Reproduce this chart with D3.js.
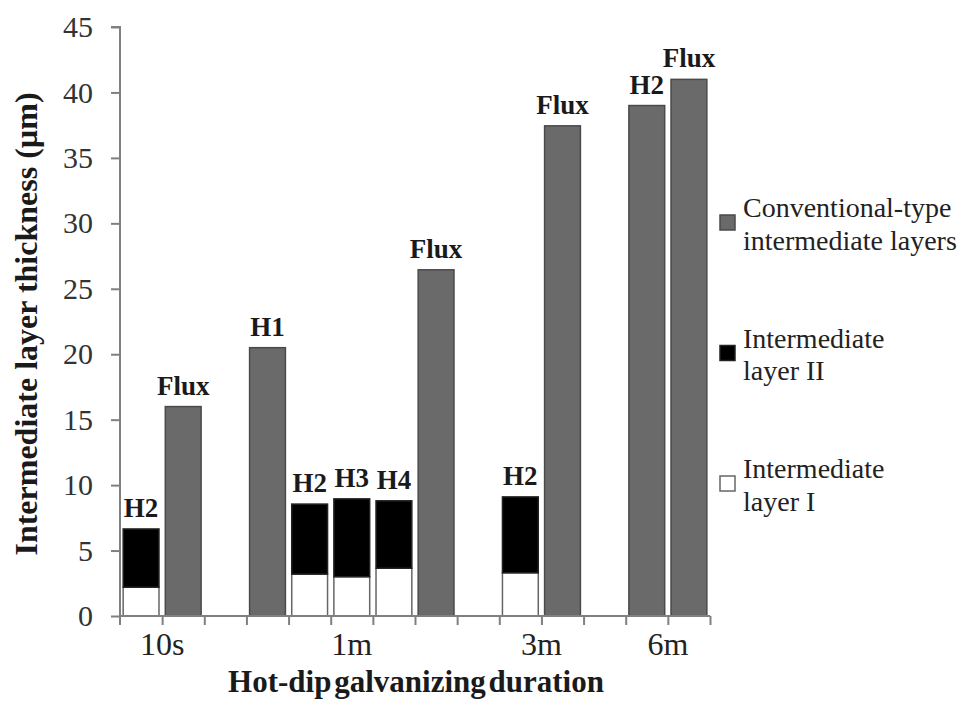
<!DOCTYPE html>
<html lang="en">
  <head>
    <meta charset="UTF-8" />
    <title>Intermediate layer thickness</title>
    <script src="https://d3js.org/d3.v7.min.js"></script>
    <style>
      body { margin: 0; background: #fff; }
      svg { display: block; }
      svg text { font-family: "Liberation Serif", "Times New Roman", serif; }
    </style>
  </head>
  <body>
    <svg width="962" height="702"></svg>
    <script>
      // 14 slots on the category axis, empty ones separate the duration groups
      var barLabels = ["H2", "Flux", "", "H1", "H2", "H3", "H4", "Flux", "", "H2", "Flux", "", "H2", "Flux"];
      var layerI = [2.2, 0, 0, 0, 3.2, 3.0, 3.65, 0, 0, 3.3, 0, 0, 0, 0];
      var layerII = [4.45, 0, 0, 0, 5.35, 5.95, 5.15, 0, 0, 5.8, 0, 0, 0, 0];
      var conventional = [0, 16.0, 0, 20.5, 0, 0, 0, 26.45, 0, 0, 37.45, 0, 39.0, 41.0];
      var groups = ["10s", "1m", "3m", "6m"];
      var groupSlots = [[0, 1], [3, 7], [9, 10], [12, 13]];
      var yTicks = [0, 5, 10, 15, 20, 25, 30, 35, 40, 45];
      var legendItems = [
        { lines: ["Conventional-type", "intermediate layers"], fill: "#6a6a6a", stroke: "#4a4a4a" },
        { lines: ["Intermediate", "layer II"], fill: "#000", stroke: "#222" },
        { lines: ["Intermediate", "layer I"], fill: "#fff", stroke: "#666" }
      ];

      var marge = { top: 27, left: 120, right: 252, bottom: 86 };
      var svg = d3.select("svg");
      var width = 962, height = 702;

      var y = d3.scaleLinear().domain([0, 45]).range([height - marge.bottom, marge.top]);
      var xLin = d3.scaleLinear().domain([0, barLabels.length]).range([marge.left, width - marge.right]);
      var x = d3.scaleBand()
        .domain(d3.range(barLabels.length))
        .range([marge.left, width - marge.right])
        .paddingInner(0.15)
        .paddingOuter(0.075);

      var axisColor = "#808080";

      // bars
      var g = svg.append("g");
      var idx = d3.range(barLabels.length);

      g.selectAll(".conv")
        .data(idx.filter(i => conventional[i] > 0))
        .enter().append("rect")
        .attr("x", i => x(i))
        .attr("y", i => y(conventional[i]))
        .attr("width", x.bandwidth())
        .attr("height", i => y(0) - y(conventional[i]))
        .attr("fill", "#6a6a6a")
        .attr("stroke", "#4a4a4a")
        .attr("stroke-width", 1.5);

      g.selectAll(".l1")
        .data(idx.filter(i => layerI[i] > 0))
        .enter().append("rect")
        .attr("x", i => x(i))
        .attr("y", i => y(layerI[i]))
        .attr("width", x.bandwidth())
        .attr("height", i => y(0) - y(layerI[i]))
        .attr("fill", "#fff")
        .attr("stroke", "#666")
        .attr("stroke-width", 1.5);

      g.selectAll(".l2")
        .data(idx.filter(i => layerII[i] > 0))
        .enter().append("rect")
        .attr("x", i => x(i))
        .attr("y", i => y(layerI[i] + layerII[i]))
        .attr("width", x.bandwidth())
        .attr("height", i => y(layerI[i]) - y(layerI[i] + layerII[i]))
        .attr("fill", "#000")
        .attr("stroke", "#222")
        .attr("stroke-width", 1.5);

      // labels above bars
      g.selectAll(".blabel")
        .data(idx.filter(i => barLabels[i] !== ""))
        .enter().append("text")
        .attr("x", i => x(i) + x.bandwidth() / 2)
        .attr("y", i => y(Math.max(conventional[i], layerI[i] + layerII[i])) - 12)
        .attr("text-anchor", "middle")
        .attr("font-weight", "bold")
        .attr("font-size", 27)
        .attr("fill", "#1a1a1a")
        .text(i => barLabels[i]);

      // y axis
      var yAxis = d3.axisLeft(y).tickValues(yTicks).tickSize(9).tickPadding(18);
      var ya = svg.append("g").attr("transform", `translate(${marge.left},0)`).call(yAxis);
      ya.attr("font-family", null);
      ya.select(".domain").attr("stroke", axisColor).attr("stroke-width", 2)
        .attr("d", `M-9,${y(45)}H0V${y(0) + 9}`);
      ya.selectAll(".tick line").attr("stroke", axisColor).attr("stroke-width", 2);
      ya.selectAll(".tick text")
        .attr("font-size", 30)
        .attr("fill", "#333");

      // x axis, ticks on slot boundaries
      var xAxis = d3.axisBottom(xLin).tickValues(d3.range(1, barLabels.length + 1)).tickSize(9).tickFormat("");
      var xa = svg.append("g").attr("transform", `translate(0,${y(0)})`).call(xAxis);
      xa.select(".domain").attr("stroke", axisColor).attr("stroke-width", 2)
        .attr("d", `M${marge.left},0H${width - marge.right}`);
      xa.selectAll(".tick line").attr("stroke", axisColor).attr("stroke-width", 2);

      // group labels
      svg.selectAll(".glabel")
        .data(groups)
        .enter().append("text")
        .attr("x", (d, i) => xLin((groupSlots[i][0] + groupSlots[i][1] + 1) / 2))
        .attr("y", 655)
        .attr("text-anchor", "middle")
        .attr("font-size", 32)
        .attr("fill", "#222")
        .text(d => d);

      // axis titles
      svg.append("text")
        .attr("x", 416)
        .attr("y", 692)
        .attr("text-anchor", "middle")
        .attr("font-weight", "bold")
        .attr("font-size", 31)
        .attr("word-spacing", -5)
        .attr("fill", "#1a1a1a")
        .text("Hot-dip galvanizing duration");

      svg.append("text")
        .attr("transform", "rotate(-90)")
        .attr("x", -324)
        .attr("y", 37)
        .attr("text-anchor", "middle")
        .attr("font-weight", "bold")
        .attr("font-size", 32)
        .attr("fill", "#1a1a1a")
        .text("Intermediate layer thickness (µm)");

      // legend
      var lg = svg.selectAll(".legend")
        .data(legendItems)
        .enter().append("g")
        .attr("transform", (d, i) => `translate(720,${217 + i * 130.5})`);
      lg.append("rect")
        .attr("x", 0).attr("y", -2)
        .attr("width", 15).attr("height", 15)
        .attr("fill", d => d.fill)
        .attr("stroke", d => d.stroke)
        .attr("stroke-width", 1.5);
      lg.append("text")
        .attr("x", 23)
        .attr("font-size", 28)
        .attr("fill", "#222")
        .selectAll("tspan")
        .data(d => d.lines)
        .enter().append("tspan")
        .attr("x", 23)
        .attr("y", (d, i) => i * 32.5)
        .text(d => d);
    </script>
  </body>
</html>
